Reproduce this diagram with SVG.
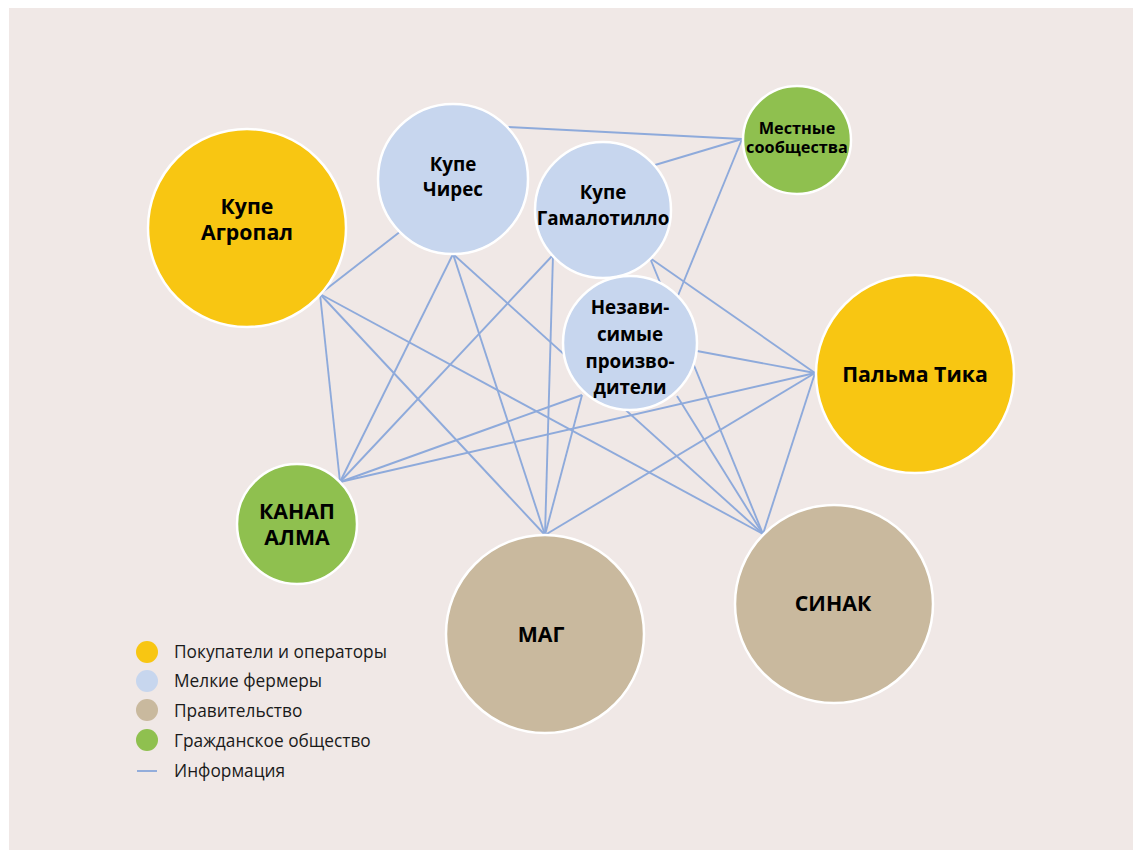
<svg xmlns="http://www.w3.org/2000/svg" width="1133" height="850" viewBox="0 0 1133 850">
<style>
.n{stroke:#fff;stroke-width:2.5}
.y{fill:#f8c612}.b{fill:#c7d6ee}.t{fill:#c9b99e}.g{fill:#8fc04f}
.l{stroke:#8eaadb;stroke-width:1.9;fill:none}
.tx{font-family:"Open Sans","Noto Sans","DejaVu Sans",sans-serif;font-weight:bold;fill:#000;text-anchor:middle}
.lg{font-family:"Open Sans","Noto Sans","DejaVu Sans",sans-serif;font-size:17.3px;fill:#1a1a1a}
</style>
<rect x="0" y="0" width="1133" height="850" fill="#fff"/>
<rect x="9" y="8" width="1124" height="842" fill="#f0e8e6"/>
<g id="connectors" class="l">
<line x1="320" y1="294" x2="401" y2="231"/>
<line x1="320" y1="294" x2="340" y2="482"/>
<line x1="320" y1="294" x2="545" y2="535"/>
<line x1="320" y1="294" x2="763" y2="534"/>
<line x1="453" y1="254" x2="340" y2="482"/>
<line x1="453" y1="254" x2="545" y2="535"/>
<line x1="453" y1="254" x2="763" y2="534"/>
<line x1="507" y1="127" x2="742" y2="139"/>
<line x1="655" y1="165" x2="742" y2="139"/>
<line x1="742" y1="139" x2="677" y2="298"/>
<line x1="553" y1="255" x2="340" y2="482"/>
<line x1="553" y1="255" x2="545" y2="535"/>
<line x1="650" y1="258" x2="815" y2="373"/>
<line x1="650" y1="258" x2="763" y2="534"/>
<line x1="697" y1="351" x2="815" y2="373"/>
<line x1="582" y1="395" x2="340" y2="482"/>
<line x1="582" y1="395" x2="545" y2="535"/>
<line x1="677" y1="396" x2="763" y2="534"/>
<line x1="815" y1="373" x2="340" y2="482"/>
<line x1="815" y1="373" x2="545" y2="535"/>
<line x1="815" y1="373" x2="763" y2="534"/>
</g>
<g id="agropal"><circle class="n y" cx="247" cy="228" r="99"/><text class="tx" font-size="21.3"><tspan x="247" y="213.5">Купе</tspan><tspan x="247" y="240">Агропал</tspan></text></g>
<g id="chires"><circle class="n b" cx="453" cy="179" r="75"/><text class="tx" font-size="18.8"><tspan x="453" y="170.5">Купе</tspan><tspan x="453" y="196">Чирес</tspan></text></g>
<g id="gamalotillo"><circle class="n b" cx="603" cy="210" r="68"/><text class="tx" font-size="18.8"><tspan x="603" y="198.5">Купе</tspan><tspan x="603" y="225">Гамалотилло</tspan></text></g>
<g id="mestnye"><circle class="n g" cx="797" cy="140" r="54"/><text class="tx" font-size="16.3"><tspan x="797" y="133.5">Местные</tspan><tspan x="797" y="153">сообщества</tspan></text></g>
<g id="nezavisimye"><circle class="n b" cx="630" cy="343" r="67"/><text class="tx" font-size="18.8"><tspan x="630" y="314">Незави-</tspan><tspan x="630" y="341">симые</tspan><tspan x="630" y="367.5">произво-</tspan><tspan x="630" y="394">дители</tspan></text></g>
<g id="palma"><circle class="n y" cx="915" cy="374" r="99"/><text class="tx" font-size="21.3" x="915" y="381.5">Пальма Тика</text></g>
<g id="kanap"><circle class="n g" cx="297" cy="524" r="60"/><text class="tx" font-size="21.3"><tspan x="297" y="519">КАНАП</tspan><tspan x="297" y="545">АЛМА</tspan></text></g>
<g id="mag"><circle class="n t" cx="545" cy="634" r="99"/><text class="tx" font-size="21.3" x="541" y="641.5">МАГ</text></g>
<g id="sinak"><circle class="n t" cx="834" cy="604" r="99"/><text class="tx" font-size="21.3" x="833" y="610.5">СИНАК</text></g>
<g id="legend">
<circle class="y" cx="147" cy="652" r="11"/><text class="lg" x="174" y="658">Покупатели и операторы</text>
<circle class="b" cx="147" cy="681" r="11"/><text class="lg" x="174" y="687">Мелкие фермеры</text>
<circle class="t" cx="147" cy="710" r="11"/><text class="lg" x="174" y="717">Правительство</text>
<circle class="g" cx="147" cy="740" r="11"/><text class="lg" x="174" y="747">Гражданское общество</text>
<line class="l" x1="137" y1="771" x2="157" y2="771"/><text class="lg" x="174" y="777">Информация</text>
</g>
</svg>
